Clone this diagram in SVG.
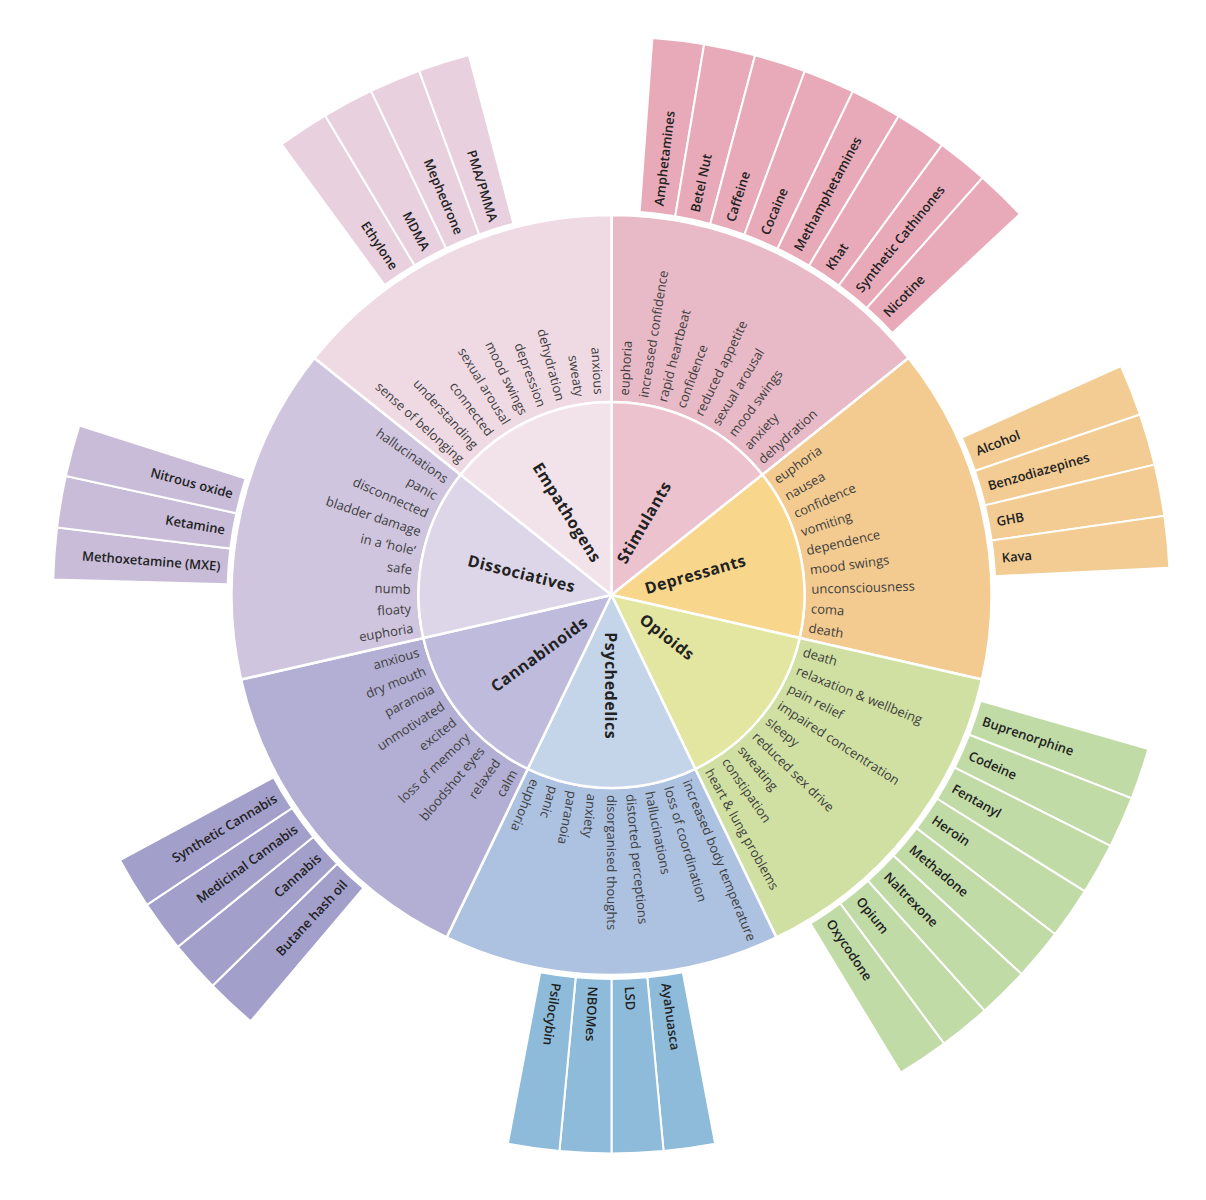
<svg xmlns="http://www.w3.org/2000/svg" width="1206" height="1200" viewBox="0 0 1206 1200">
<style>
text{font-family:"Open Sans","Liberation Sans",sans-serif;dominant-baseline:central}
.eff{font-size:13px;fill:#3e3e3e}
.sub{font-size:13px;font-weight:600;fill:#222}
.cat{font-size:16px;font-weight:700;fill:#222;text-anchor:middle;letter-spacing:0.5px}
.end{text-anchor:end}
.seg{stroke:#fff;stroke-width:2.5}
.bar{stroke:#fff;stroke-width:2}
</style>
<defs>
<path id="inner" d="M0,0 L0,-193 A193,193 0 0 1 150.89,-120.33 Z"/>
<path id="mid" d="M0,-193 A193,193 0 0 1 150.89,-120.33 L297.10,-236.93 A380,380 0 0 0 0,-380 Z"/>
<path id="bar" d="M0,-384 A384,384 0 0 1 35.80,-382.33 L52.07,-556.06 A558.5,558.5 0 0 0 0,-558.5 Z"/>
</defs>
<rect width="1206" height="1200" fill="#fff"/>
<g transform="translate(611.5,595)">

<g id="stimulants">
<g fill="#e8aab8" class="bar">
<use href="#bar" transform="rotate(4.2)"/><use href="#bar" transform="rotate(9.55)"/><use href="#bar" transform="rotate(14.9)"/><use href="#bar" transform="rotate(20.25)"/><use href="#bar" transform="rotate(25.6)"/><use href="#bar" transform="rotate(30.95)"/><use href="#bar" transform="rotate(36.3)"/><use href="#bar" transform="rotate(41.65)"/>
</g>
<use href="#mid" class="seg" fill="#e8b9c6"/>
<use href="#inner" class="seg" fill="#ecc2ce"/>
</g>

<g id="depressants">
<g fill="#f2cc93" class="bar">
<use href="#bar" transform="rotate(65.8)"/><use href="#bar" transform="rotate(71.15)"/><use href="#bar" transform="rotate(76.5)"/><use href="#bar" transform="rotate(81.85)"/>
</g>
<use href="#mid" class="seg" fill="#f3cb90" transform="rotate(51.4286)"/>
<use href="#inner" class="seg" fill="#f8d68c" transform="rotate(51.4286)"/>
</g>

<g id="opioids">
<g fill="#c1dba7" class="bar">
<use href="#bar" transform="rotate(106)"/><use href="#bar" transform="rotate(111.35)"/><use href="#bar" transform="rotate(116.7)"/><use href="#bar" transform="rotate(122.05)"/><use href="#bar" transform="rotate(127.4)"/><use href="#bar" transform="rotate(132.75)"/><use href="#bar" transform="rotate(138.1)"/><use href="#bar" transform="rotate(143.45)"/>
</g>
<use href="#mid" class="seg" fill="#cfe0a2" transform="rotate(102.857)"/>
<use href="#inner" class="seg" fill="#e2e6a1" transform="rotate(102.857)"/>
</g>

<g id="psychedelics">
<g fill="#8dbbd9" class="bar">
<use href="#bar" transform="rotate(169.3)"/><use href="#bar" transform="rotate(174.65)"/><use href="#bar" transform="rotate(180)"/><use href="#bar" transform="rotate(185.35)"/>
</g>
<use href="#mid" class="seg" fill="#adc1e0" transform="rotate(154.286)"/>
<use href="#inner" class="seg" fill="#c5d5e9" transform="rotate(154.286)"/>
</g>

<g id="cannabinoids">
<g fill="#a39fcb" class="bar">
<use href="#bar" transform="rotate(220.25)"/><use href="#bar" transform="rotate(225.6)"/><use href="#bar" transform="rotate(230.95)"/><use href="#bar" transform="rotate(236.3)"/>
</g>
<use href="#mid" class="seg" fill="#b3aed3" transform="rotate(205.714)"/>
<use href="#inner" class="seg" fill="#bfbbdc" transform="rotate(205.714)"/>
</g>

<g id="dissociatives">
<g fill="#c8bcd8" class="bar">
<use href="#bar" transform="rotate(271.6)"/><use href="#bar" transform="rotate(276.95)"/><use href="#bar" transform="rotate(282.3)"/>
</g>
<use href="#mid" class="seg" fill="#cfc5de" transform="rotate(257.143)"/>
<use href="#inner" class="seg" fill="#ddd6e8" transform="rotate(257.143)"/>
</g>

<g id="empathogens">
<g fill="#e8d0de" class="bar">
<use href="#bar" transform="rotate(323.8)"/><use href="#bar" transform="rotate(329.15)"/><use href="#bar" transform="rotate(334.5)"/><use href="#bar" transform="rotate(339.85)"/>
</g>
<use href="#mid" class="seg" fill="#efdae4" transform="rotate(308.571)"/>
<use href="#inner" class="seg" fill="#f2e2ea" transform="rotate(308.571)"/>
</g>

<g id="labels-stimulants">
<text class="cat" transform="translate(32.2,-72.7) rotate(-60)">Stimulants</text>
<text class="eff" transform="rotate(-86.5) translate(200,0)">euphoria</text>
<text class="eff" transform="rotate(-80.95) translate(200,0)">increased confidence</text>
<text class="eff" transform="rotate(-75.4) translate(200,0)">rapid heartbeat</text>
<text class="eff" transform="rotate(-69.85) translate(200,0)">confidence</text>
<text class="eff" transform="rotate(-64.3) translate(200,0)">reduced appetite</text>
<text class="eff" transform="rotate(-58.75) translate(200,0)">sexual arousal</text>
<text class="eff" transform="rotate(-53.2) translate(200,0)">mood swings</text>
<text class="eff" transform="rotate(-47.65) translate(200,0)">anxiety</text>
<text class="eff" transform="rotate(-42.1) translate(200,0)">dehydration</text>
<text class="sub" transform="rotate(-83.125) translate(392,0)">Amphetamines</text>
<text class="sub" transform="rotate(-77.775) translate(392,0)">Betel Nut</text>
<text class="sub" transform="rotate(-72.425) translate(392,0)">Caffeine</text>
<text class="sub" transform="rotate(-67.075) translate(392,0)">Cocaine</text>
<text class="sub" transform="rotate(-61.725) translate(392,0)">Methamphetamines</text>
<text class="sub" transform="rotate(-56.375) translate(392,0)">Khat</text>
<text class="sub" transform="rotate(-51.025) translate(392,0)">Synthetic Cathinones</text>
<text class="sub" transform="rotate(-45.675) translate(392,0)">Nicotine</text>
</g>

<g id="labels-depressants">
<text class="cat" transform="translate(83.8,-21) rotate(-16)">Depressants</text>
<text class="eff" transform="rotate(-35.07) translate(200,0)">euphoria</text>
<text class="eff" transform="rotate(-29.52) translate(200,0)">nausea</text>
<text class="eff" transform="rotate(-23.97) translate(200,0)">confidence</text>
<text class="eff" transform="rotate(-18.42) translate(200,0)">vomiting</text>
<text class="eff" transform="rotate(-12.87) translate(200,0)">dependence</text>
<text class="eff" transform="rotate(-7.32) translate(200,0)">mood swings</text>
<text class="eff" transform="rotate(-1.77) translate(200,0)">unconsciousness</text>
<text class="eff" transform="rotate(3.78) translate(200,0)">coma</text>
<text class="eff" transform="rotate(9.33) translate(200,0)">death</text>
<text class="sub" transform="rotate(-21.525) translate(392,0)">Alcohol</text>
<text class="sub" transform="rotate(-16.175) translate(392,0)">Benzodiazepines</text>
<text class="sub" transform="rotate(-10.825) translate(392,0)">GHB</text>
<text class="sub" transform="rotate(-5.475) translate(392,0)">Kava</text>
</g>

<g id="labels-opioids">
<text class="cat" transform="translate(55.8,41.7) rotate(38)">Opioids</text>
<text class="eff" transform="rotate(16.36) translate(200,0)">death</text>
<text class="eff" transform="rotate(21.91) translate(200,0)">relaxation &amp; wellbeing</text>
<text class="eff" transform="rotate(27.46) translate(200,0)">pain relief</text>
<text class="eff" transform="rotate(33.01) translate(200,0)">impaired concentration</text>
<text class="eff" transform="rotate(38.56) translate(200,0)">sleepy</text>
<text class="eff" transform="rotate(44.11) translate(200,0)">reduced sex drive</text>
<text class="eff" transform="rotate(49.66) translate(200,0)">sweating</text>
<text class="eff" transform="rotate(55.21) translate(200,0)">constipation</text>
<text class="eff" transform="rotate(60.76) translate(200,0)">heart &amp; lung problems</text>
<text class="sub" transform="rotate(18.675) translate(392,0)">Buprenorphine</text>
<text class="sub" transform="rotate(24.025) translate(392,0)">Codeine</text>
<text class="sub" transform="rotate(29.375) translate(392,0)">Fentanyl</text>
<text class="sub" transform="rotate(34.725) translate(392,0)">Heroin</text>
<text class="sub" transform="rotate(40.075) translate(392,0)">Methadone</text>
<text class="sub" transform="rotate(45.425) translate(392,0)">Naltrexone</text>
<text class="sub" transform="rotate(50.775) translate(392,0)">Opium</text>
<text class="sub" transform="rotate(56.125) translate(392,0)">Oxycodone</text>
</g>

<g id="labels-psychedelics">
<text class="cat" transform="translate(-0.8,90.7) rotate(90)">Psychedelics</text>
<text class="eff" transform="rotate(67.79) translate(200,0)">increased body temperature</text>
<text class="eff" transform="rotate(73.34) translate(200,0)">loss of coordination</text>
<text class="eff" transform="rotate(78.89) translate(200,0)">hallucinations</text>
<text class="eff" transform="rotate(84.44) translate(200,0)">distorted perceptions</text>
<text class="eff" transform="rotate(89.99) translate(200,0)">disorganised thoughts</text>
<text class="eff" transform="rotate(95.54) translate(200,0)">anxiety</text>
<text class="eff" transform="rotate(101.09) translate(200,0)">paranoia</text>
<text class="eff" transform="rotate(106.64) translate(200,0)">panic</text>
<text class="eff" transform="rotate(112.19) translate(200,0)">euphoria</text>
<text class="sub" transform="rotate(81.975) translate(392,0)">Ayahuasca</text>
<text class="sub" transform="rotate(87.325) translate(392,0)">LSD</text>
<text class="sub" transform="rotate(92.675) translate(392,0)">NBOMes</text>
<text class="sub" transform="rotate(98.025) translate(392,0)">Psilocybin</text>
</g>

<g id="labels-cannabinoids">
<text class="cat" transform="translate(-72.5,59) rotate(-36)">Cannabinoids</text>
<text class="eff end" transform="rotate(299.21) translate(-201,0)">calm</text>
<text class="eff end" transform="rotate(304.76) translate(-201,0)">relaxed</text>
<text class="eff end" transform="rotate(310.31) translate(-201,0)">bloodshot eyes</text>
<text class="eff end" transform="rotate(315.86) translate(-201,0)">loss of memory</text>
<text class="eff end" transform="rotate(321.41) translate(-201,0)">excited</text>
<text class="eff end" transform="rotate(326.96) translate(-201,0)">unmotivated</text>
<text class="eff end" transform="rotate(332.51) translate(-201,0)">paranoia</text>
<text class="eff end" transform="rotate(338.06) translate(-201,0)">dry mouth</text>
<text class="eff end" transform="rotate(343.61) translate(-201,0)">anxious</text>
<text class="sub end" transform="rotate(312.925) translate(-392,0)">Butane hash oil</text>
<text class="sub end" transform="rotate(318.275) translate(-392,0)">Cannabis</text>
<text class="sub end" transform="rotate(323.625) translate(-392,0)">Medicinal Cannabis</text>
<text class="sub end" transform="rotate(328.975) translate(-392,0)">Synthetic Cannabis</text>
</g>

<g id="labels-dissociatives">
<text class="cat" transform="translate(-89.8,-21.7) rotate(14)">Dissociatives</text>
<text class="eff end" transform="rotate(350.64) translate(-201,0)">euphoria</text>
<text class="eff end" transform="rotate(356.19) translate(-201,0)">floaty</text>
<text class="eff end" transform="rotate(1.74) translate(-201,0)">numb</text>
<text class="eff end" transform="rotate(7.29) translate(-201,0)">safe</text>
<text class="eff end" transform="rotate(12.84) translate(-201,0)">in a ‘hole’</text>
<text class="eff end" transform="rotate(18.39) translate(-201,0)">bladder damage</text>
<text class="eff end" transform="rotate(23.94) translate(-201,0)">disconnected</text>
<text class="eff end" transform="rotate(29.49) translate(-201,0)">panic</text>
<text class="eff end" transform="rotate(35.04) translate(-201,0)">hallucinations</text>
<text class="sub end" transform="rotate(4.275) translate(-392,0)">Methoxetamine (MXE)</text>
<text class="sub end" transform="rotate(9.625) translate(-392,0)">Ketamine</text>
<text class="sub end" transform="rotate(14.975) translate(-392,0)">Nitrous oxide</text>
</g>

<g id="labels-empathogens">
<text class="cat" transform="translate(-44.2,-82.7) rotate(58)">Empathogens</text>
<text class="eff end" transform="rotate(42.07) translate(-201,0)">sense of belonging</text>
<text class="eff end" transform="rotate(47.62) translate(-201,0)">understanding</text>
<text class="eff end" transform="rotate(53.17) translate(-201,0)">connected</text>
<text class="eff end" transform="rotate(58.72) translate(-201,0)">sexual arousal</text>
<text class="eff end" transform="rotate(64.27) translate(-201,0)">mood swings</text>
<text class="eff end" transform="rotate(69.82) translate(-201,0)">depression</text>
<text class="eff end" transform="rotate(75.37) translate(-201,0)">dehydration</text>
<text class="eff end" transform="rotate(80.92) translate(-201,0)">sweaty</text>
<text class="eff end" transform="rotate(86.47) translate(-201,0)">anxious</text>
<text class="sub end" transform="rotate(56.475) translate(-392,0)">Ethylone</text>
<text class="sub end" transform="rotate(61.825) translate(-392,0)">MDMA</text>
<text class="sub end" transform="rotate(67.175) translate(-392,0)">Mephedrone</text>
<text class="sub end" transform="rotate(72.525) translate(-392,0)">PMA/PMMA</text>
</g>

</g>
</svg>
